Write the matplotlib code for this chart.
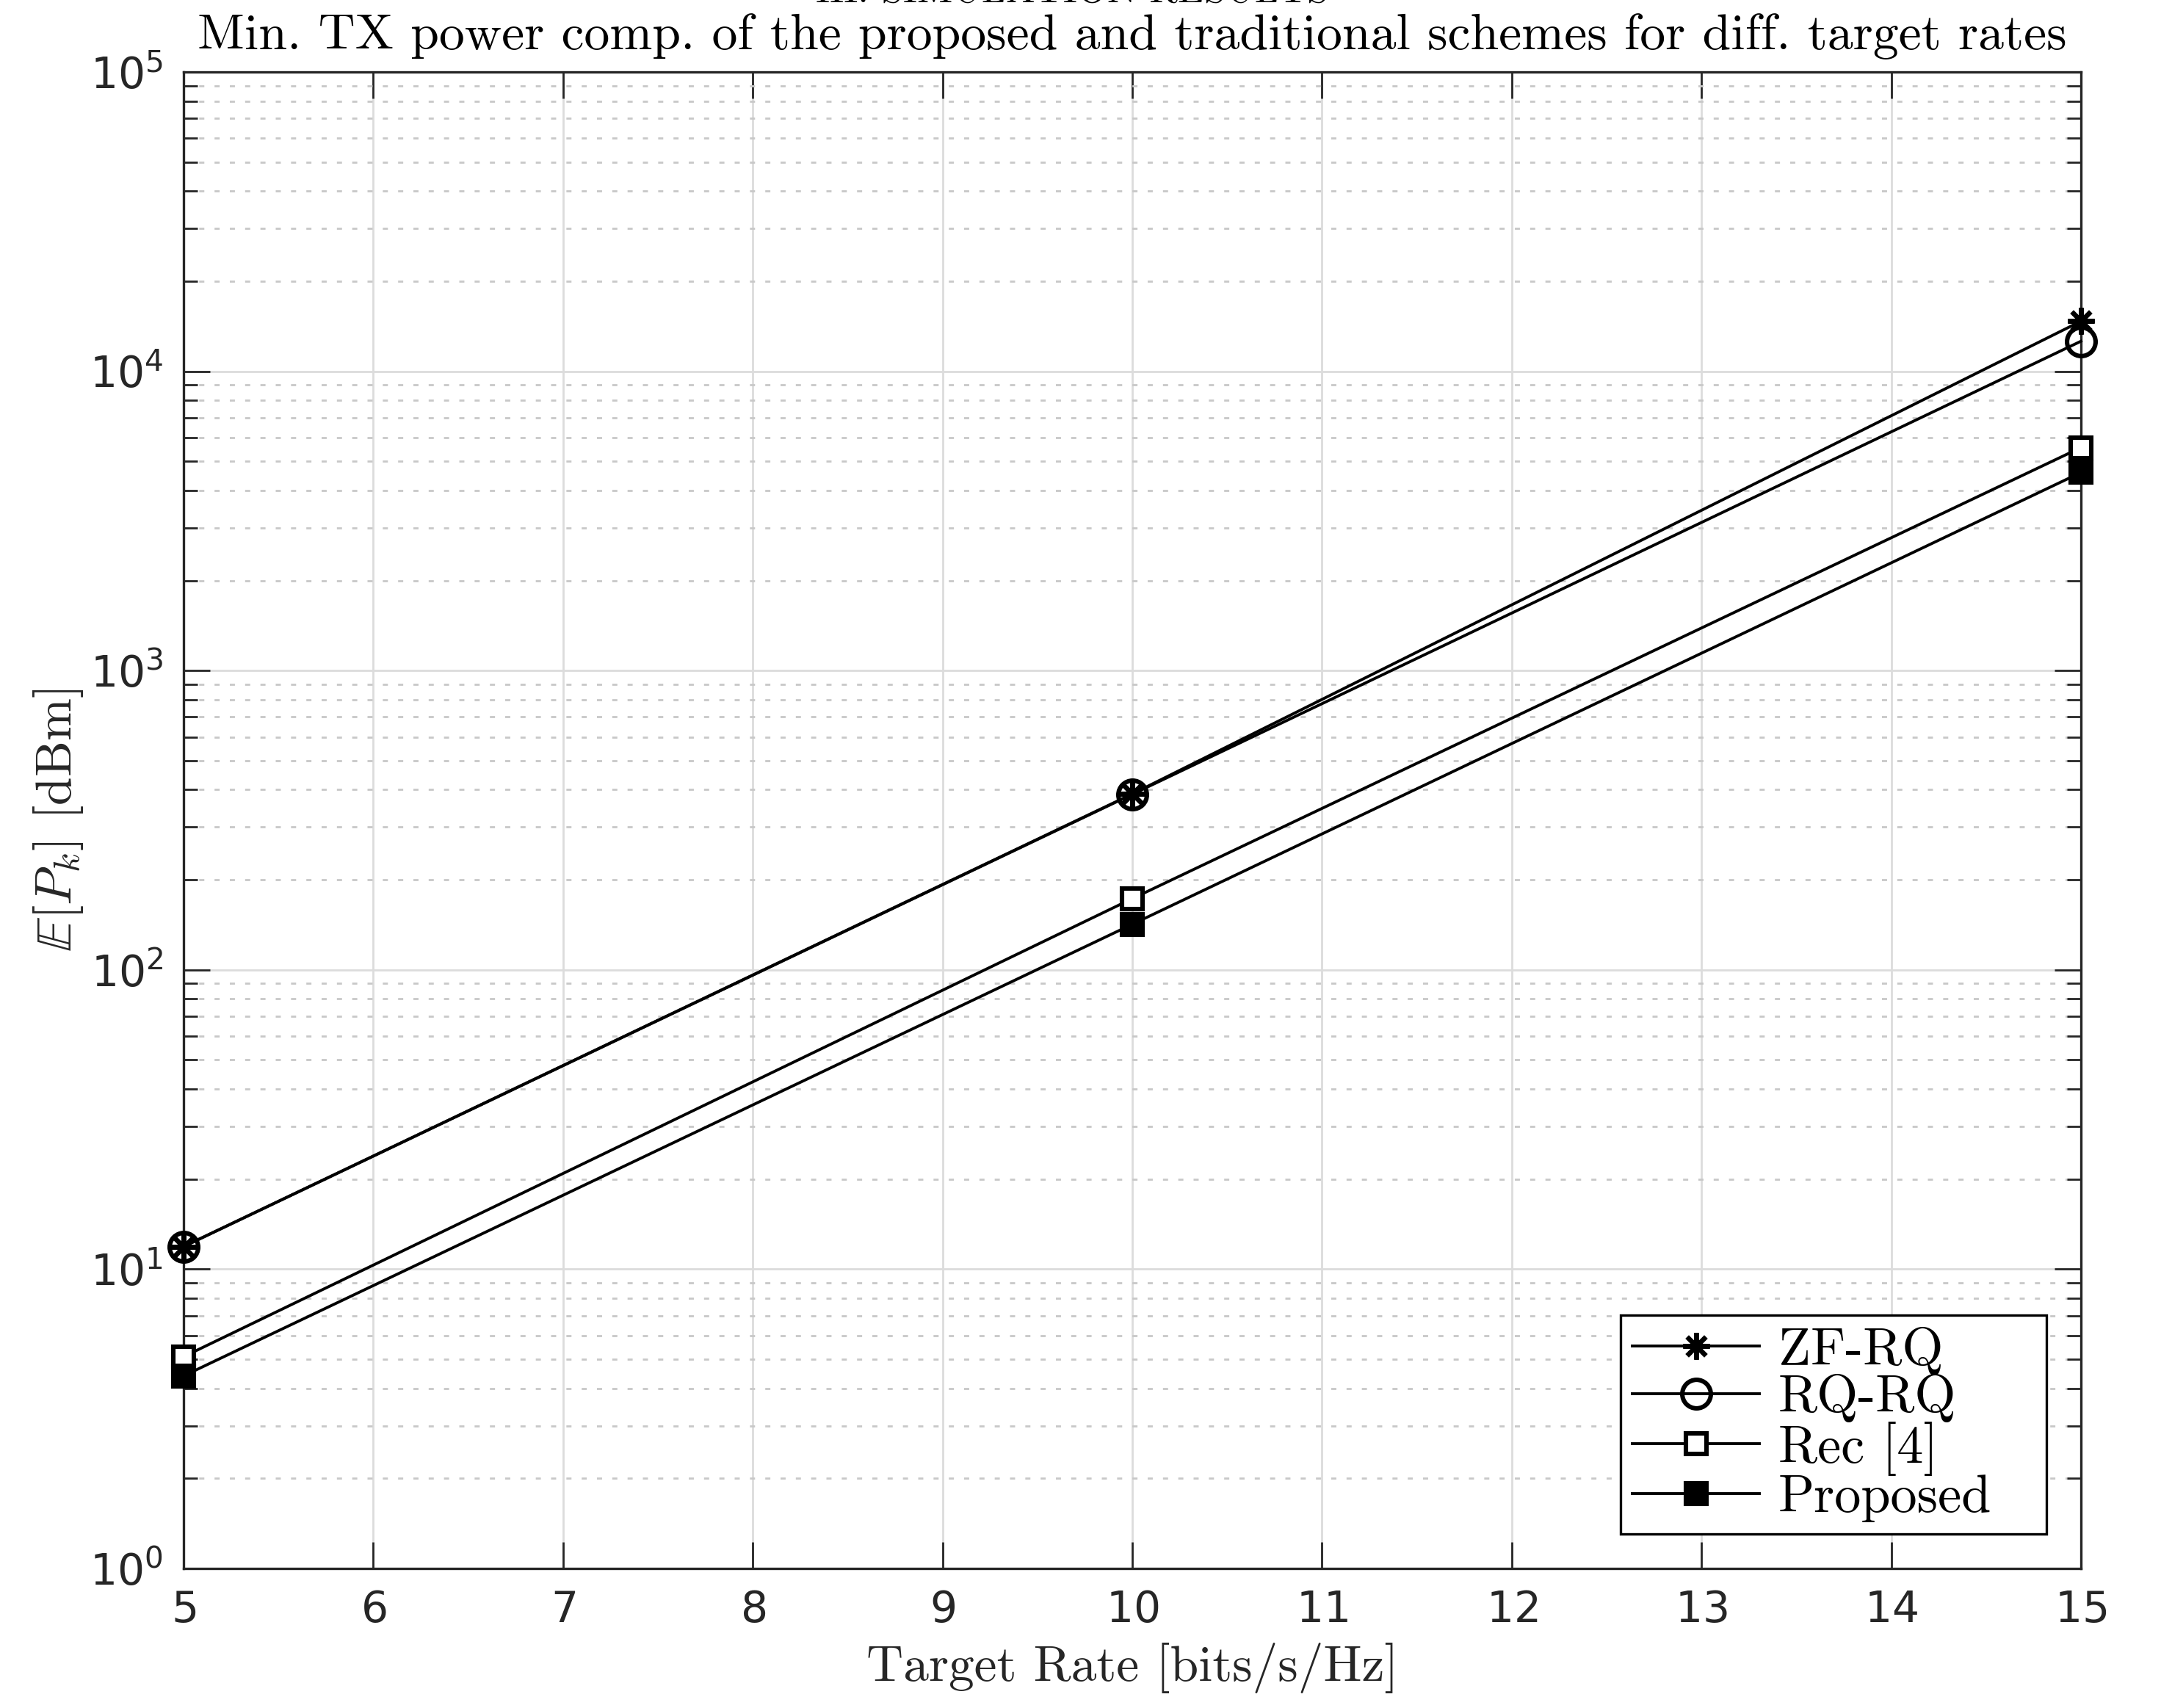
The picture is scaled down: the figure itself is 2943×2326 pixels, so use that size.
import matplotlib
matplotlib.use("Agg")
import matplotlib.pyplot as plt
from matplotlib.ticker import LogLocator, NullFormatter, FixedLocator

# values
rates = [5, 10, 15]
zf_rq = [11.9, 387, 14700]
rq_rq = [11.9, 386, 12600]
rec4 = [5.1, 173, 5560]
proposed = [4.4, 142, 4590]

series = [
    ("ZF-RQ", zf_rq),
    ("RQ-RQ", rq_rq),
    ("Rec [4]", rec4),
    ("Proposed", proposed),
]
xticks = list(range(5, 16))

plt.rcParams["mathtext.fontset"] = "custom"
plt.rcParams["mathtext.rm"] = "Liberation Sans"
plt.rcParams["mathtext.it"] = "Liberation Sans:italic"
plt.rcParams["mathtext.bf"] = "Liberation Sans:bold"
plt.rcParams["axes.formatter.use_mathtext"] = True

serif = "cmr10"
dark = (0.15, 0.15, 0.15)

fig = plt.figure(figsize=(2943 / 200, 2326 / 200), dpi=200)
ax = fig.add_axes([250 / 2943, 1 - 2136 / 2326, (2834 - 250) / 2943, (2136 - 98) / 2326])

styles = {
    "ZF-RQ": dict(marker=(8, 2, 0), ms=13, mew=2.3, mfc="none"),
    "RQ-RQ": dict(marker="o", ms=14, mew=2.2, mfc="none"),
    "Rec [4]": dict(marker="s", ms=10, mew=2.2, mfc="white"),
    "Proposed": dict(marker="s", ms=10, mew=2.2, mfc="black"),
}
for name, vals in series:
    ax.plot(rates, vals, color="black", lw=1.4, mec="black", label=name,
            clip_on=False, zorder=3, **styles[name])

ax.set_yscale("log")
ax.set_xlim(5, 15)
ax.set_ylim(1, 1e5)
ax.xaxis.set_major_locator(FixedLocator(xticks))
ax.yaxis.set_major_locator(LogLocator(base=10, numticks=10))
ax.yaxis.set_minor_locator(LogLocator(base=10, subs=range(2, 10), numticks=20))
ax.yaxis.set_minor_formatter(NullFormatter())

ax.grid(True, which="major", color="#dcdcdc", lw=1.0, ls="-")
ax.grid(True, which="minor", axis="y", color="#c8c8c8", lw=1.0, ls=(0, (2.5, 5)))
ax.set_axisbelow(True)

ax.tick_params(which="both", direction="in", top=True, right=True, colors=dark,
               labelcolor=dark)
ax.tick_params(which="major", length=13, width=1.0, labelsize=21, pad=10)
ax.tick_params(which="minor", length=7, width=1.0)
for sp in ax.spines.values():
    sp.set_color(dark)
    sp.set_linewidth(1.2)

ax.set_xlabel("Target Rate [bits/s/Hz]", fontfamily=serif, fontsize=25, color=dark, labelpad=6)
ax.set_ylabel(r"$\mathbb{E}[P_k]$ [dBm]", fontfamily=serif, fontsize=25, color=dark,
              math_fontfamily="cm", labelpad=2)
ax.set_title("Min. TX power comp. of the proposed and traditional schemes for diff. target rates",
             fontfamily=serif, fontsize=25.1, color="black", pad=11)

# section heading of the page, cut off by the top edge as in the source
fig.text(0.496, 1 - 3 / 2326, "III. SIMULATION RESULTS", fontfamily=serif, fontsize=19,
         ha="center", va="baseline")

x0 = (2207 - 250) / 2584
y0 = (2136 - 2089) / 2038
w = (2787 - 2207) / 2584
leg = ax.legend(loc="lower left", bbox_to_anchor=(x0, y0, w, 0.1), mode="expand",
                prop={"family": serif, "size": 26}, frameon=True,
                fancybox=False, framealpha=1, edgecolor="black", handlelength=2.4,
                labelspacing=-0.02, borderaxespad=0, handletextpad=0.35, borderpad=0.22)
leg.get_frame().set_linewidth(1.2)

fig.savefig("out.png", dpi=200)
